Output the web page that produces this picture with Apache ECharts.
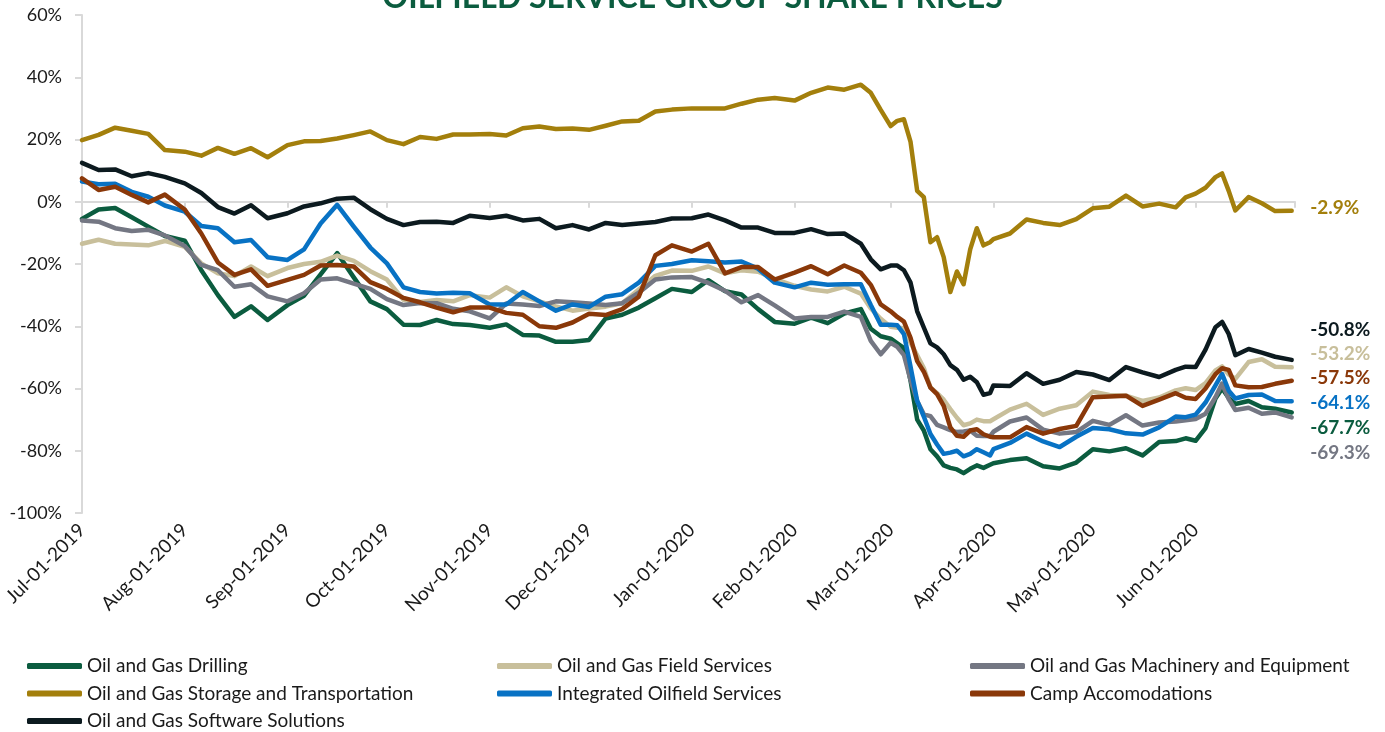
<!DOCTYPE html>
<html>
<head>
<meta charset="utf-8">
<title>Oilfield Service Group Share Prices</title>
<script src="https://cdn.jsdelivr.net/npm/echarts@6/dist/echarts.min.js"></script>
<style>
  html, body { margin: 0; padding: 0; background: #fff; }
  #chart { width: 1385px; height: 732px; }
</style>
</head>
<body>
<div id="chart"></div>
<script>
// sample dates (shared by every series)
var dates = [
  '2019-07-01','2019-07-06','2019-07-11','2019-07-16','2019-07-21','2019-07-26',
  '2019-08-01','2019-08-06','2019-08-11','2019-08-16','2019-08-21','2019-08-26',
  '2019-09-01','2019-09-06','2019-09-11','2019-09-16','2019-09-21','2019-09-26',
  '2019-10-01','2019-10-06','2019-10-11','2019-10-16','2019-10-21','2019-10-26',
  '2019-11-01','2019-11-06','2019-11-11','2019-11-16','2019-11-21','2019-11-26',
  '2019-12-01','2019-12-06','2019-12-11','2019-12-16','2019-12-21','2019-12-26',
  '2020-01-01','2020-01-06','2020-01-11','2020-01-16','2020-01-21','2020-01-26',
  '2020-02-01','2020-02-06','2020-02-11','2020-02-16','2020-02-21','2020-02-24','2020-02-27',
  '2020-03-01','2020-03-03','2020-03-05','2020-03-07','2020-03-09','2020-03-11','2020-03-13',
  '2020-03-15','2020-03-17','2020-03-19','2020-03-21','2020-03-23','2020-03-25','2020-03-27',
  '2020-03-29','2020-03-31',
  '2020-04-01','2020-04-06','2020-04-11','2020-04-16','2020-04-21','2020-04-26',
  '2020-05-01','2020-05-06','2020-05-11','2020-05-16','2020-05-21','2020-05-26','2020-05-29',
  '2020-06-01','2020-06-04','2020-06-07','2020-06-09','2020-06-11','2020-06-13',
  '2020-06-17','2020-06-21','2020-06-25','2020-06-30'
];

// % change since Jul-01-2019
var drilling = [
  -5.5,-2.5,-2,-5,-8,-11, -12.5,-22,-30,-37,-33.6,-38, -33.2,-30.2,-23.3,-16.5,-24.3,-32,
  -34.5,-39.5,-39.6,-38,-39.3,-39.6, -40.5,-39.4,-42.8,-43,-45,-45, -44.4,-37.5,-36.3,-34,-31,-28,
  -29,-25.2,-28.7,-29.8,-34.5,-38.6, -39.2,-37.2,-39,-35.9,-34.5,-40.8,-43.2,
  -44,-45.5,-47,-57.5,-70,-73.5,-79.5, -81.8,-84.7,-85.5,-86,-87.2,-85.8,-84.7, -85.5,-84.5,
  -84,-83,-82.4,-85,-85.7,-83.8, -79.5,-80.2,-79.2,-81.5,-77.2,-76.9,-76,
  -76.8,-72.7,-63.2,-60,-63,-65, -64,-66,-66.5,-67.7
];
var fieldServices = [
  -13.5,-12.2,-13.5,-13.7,-14,-12.6, -14.5,-19.8,-23,-23.9,-20.8,-23.9, -21.3,-20,-19.3,-17.3,-19,-22.3,
  -25,-31.5,-32.2,-31.6,-32,-30, -30.8,-27.5,-30.4,-32,-33.6,-35, -34.3,-33.7,-32.6,-28.2,-23.8,-22.1,
  -22.2,-20.8,-23,-22,-22.5,-24.8, -27,-28.2,-28.8,-27.3,-29.5,-34.3,-37.6,
  -40.2,-40.5,-40.6,-45.3,-49.3,-53.4,-59.7, -61.5,-63.6,-66.6,-69.4,-71.8,-71.2,-70, -70.5,-70.5,
  -69.9,-66.8,-64.9,-68.5,-66.5,-65.4, -61,-62.1,-62.3,-64,-62.9,-60.6,-59.9,
  -60.5,-58.3,-54.2,-52.9,-55.5,-56.9, -51.5,-50.6,-53,-53.2
];
var machinery = [
  -6,-6.4,-8.5,-9.4,-9,-10.8, -14.2,-20.3,-22,-27.3,-26.5,-30.4, -32,-29.4,-25,-24.6,-26.3,-28,
  -31.3,-33.2,-32.5,-32.6,-34.4,-35.2, -37.5,-32.7,-33,-33.5,-32,-32.3, -32.7,-33.2,-32.6,-29.2,-25,-24.3,
  -24.2,-26.1,-28.6,-32.3,-30,-33.3, -37.5,-37,-37,-35.3,-37,-44.7,-49,
  -45.3,-46.6,-49.3,-57.3,-64,-68.3,-68.9, -71.7,-72.5,-73.4,-74,-73.8,-73.5,-75.2, -75.3,-75.3,
  -73.9,-70.6,-69.3,-73.2,-74.5,-74, -70.4,-71.7,-68.6,-71.9,-70.9,-70.6,-70.2,
  -69.8,-68.1,-62.8,-58.4,-63.4,-66.9, -66.2,-68.1,-67.7,-69.3
];
var storage = [
  19.8,21.5,23.8,22.8,21.8,16.6, 16.1,14.8,17.3,15.4,17.2,14.3, 18.2,19.4,19.5,20.3,21.4,22.6,
  19.8,18.5,20.8,20.2,21.6,21.6, 21.8,21.3,23.6,24.2,23.4,23.5, 23.1,24.4,25.8,26,29,29.6,
  30,30,30,31.5,32.8,33.3, 32.5,35,36.7,36,37.6,35,29.5,
  24.3,26,26.5,19.2,3.5,1.5,-13, -11.4,-17.8,-29,-22.4,-26.5,-15.3,-8.5, -14,-13,
  -12,-10.2,-5.7,-6.8,-7.5,-5.6, -2.1,-1.6,2,-1.5,-0.6,-1.8,1.4,
  2.6,4.5,7.9,9.1,3.5,-2.8, 1.5,-0.5,-3,-2.9
];
var integrated = [
  6.5,5.6,5.8,3.2,1.6,-1.2, -3.2,-7.8,-8.5,-13,-12.3,-17.8, -18.7,-15.3,-7,-1,-8,-14.7,
  -19.8,-27.5,-29,-29.5,-29.2,-29.4, -33,-33,-29,-32,-35,-33, -33.8,-30.5,-29.7,-26,-20.6,-20,
  -18.8,-19.1,-19.5,-19.2,-21.5,-26, -27.5,-26,-26.7,-26.5,-26.5,-33.2,-39.5,
  -39.5,-39.7,-42.5,-53,-64,-69,-74.6, -78,-81,-80.6,-80,-81.8,-81,-79.5, -80.5,-81.5,
  -79.5,-77.5,-74.5,-77,-78.8,-75.5, -72.7,-73.1,-74.4,-74.8,-72.5,-69,-69.2,
  -68.4,-64.5,-59,-55.3,-60.7,-63.2, -62.1,-61.9,-64,-64.1
];
var camp = [
  7.5,3.8,4.8,2.2,-0.2,2.3, -2.5,-10.2,-19.5,-23.5,-21.7,-27, -25.1,-23.5,-20.5,-20.3,-20.8,-25.8,
  -28,-30.9,-32.3,-34,-35.5,-34, -34,-35.7,-36.3,-40,-40.5,-38.8, -36,-36.4,-34.5,-30.5,-17.2,-14,
  -16,-13.5,-23,-21,-21,-25, -22.8,-20.7,-23.3,-20.5,-22.8,-26.7,-33,
  -35.2,-37,-38.5,-43.7,-51.2,-54.6,-59.7, -61.8,-65.6,-72.5,-75.2,-75.5,-73.5,-73.1, -74.7,-75.5,
  -75.7,-75.7,-72.4,-74.5,-73,-72, -62.8,-62.6,-62.3,-65.6,-63.6,-61.5,-63,
  -63.4,-60,-55.4,-53.5,-54,-59, -59.6,-59.5,-58.5,-57.5
];
var software = [
  12.5,10.2,10.4,8.2,9.2,8, 5.9,2.8,-1.7,-3.8,-1.1,-5.3, -3.7,-1.5,-0.5,1,1.3,-2.4,
  -5.5,-7.5,-6.5,-6.4,-6.8,-4.5, -5.2,-4.5,-6,-5.5,-8.5,-7.5, -8.9,-6.8,-7.5,-7,-6.5,-5.4,
  -5.3,-4.1,-6,-8.3,-8.3,-10, -10,-8.8,-10.4,-10.2,-13.5,-18.5,-21.7,
  -20.5,-20.5,-22,-26,-35.2,-40.4,-45.5, -46.8,-49,-52.5,-54,-57.2,-56.2,-58, -62,-61.5,
  -59,-59.2,-55.1,-58.5,-57.2,-54.7, -55.5,-57.3,-53.1,-54.8,-56.3,-54,-53,
  -53.1,-47.5,-40.3,-38.6,-42.5,-49.3, -47.3,-48.5,-49.8,-50.8
];

var monthLabels = ['2019-07-01','2019-08-01','2019-09-01','2019-10-01','2019-11-01','2019-12-01',
  '2020-01-01','2020-02-01','2020-03-01','2020-04-01','2020-05-01','2020-06-01'];
var axisEnd = '2020-07-01';

function ts(s) {
  var p = s.split('-');
  return Date.UTC(+p[0], +p[1] - 1, +p[2]);
}
var MON = ['Jan','Feb','Mar','Apr','May','Jun','Jul','Aug','Sep','Oct','Nov','Dec'];
function fmtDate(v) {
  var d = new Date(v);
  var day = d.getUTCDate();
  return MON[d.getUTCMonth()] + '-' + (day < 10 ? '0' + day : day) + '-' + d.getUTCFullYear();
}

var font = 'Lato, "Open Sans", sans-serif';
var textColor = '#1a1a1a';
var axisGray = '#d9d9d9';

// name, values, colour, vertical nudge of the end label
var lines = [
  { name: 'Oil and Gas Drilling', values: drilling, color: '#0b5c3f', dy: 15 },
  { name: 'Oil and Gas Field Services', values: fieldServices, color: '#c8bf9b', dy: -13 },
  { name: 'Oil and Gas Machinery and Equipment', values: machinery, color: '#747783', dy: 35 },
  { name: 'Oil and Gas Storage and Transportation', values: storage, color: '#a37f0c', dy: -3 },
  { name: 'Integrated Oilfield Services', values: integrated, color: '#0872c4', dy: 1.5 },
  { name: 'Camp Accomodations', values: camp, color: '#8a3809', dy: -2.5 },
  { name: 'Oil and Gas Software Solutions', values: software, color: '#0c1a1f', dy: -30 }
];

var series = lines.map(function (l) {
  var data = dates.map(function (d, i) { return [ts(d), l.values[i]]; });
  var last = data[data.length - 1];
  return {
    name: l.name,
    type: 'line',
    xAxisIndex: 0,
    data: data,
    symbol: 'none',
    color: l.color,
    lineStyle: { width: 4.5, color: l.color, cap: 'round', join: 'round' },
    markPoint: {
      symbol: 'circle',
      symbolSize: 1,
      itemStyle: { color: 'rgba(0,0,0,0)' },
      silent: true,
      data: [{ coord: last, value: last[1] }],
      label: {
        show: true,
        position: 'right',
        distance: 18,
        offset: [0, l.dy],
        color: l.color,
        fontFamily: font,
        fontWeight: 'bold',
        fontSize: 19,
        formatter: function (p) { return p.value.toFixed(1) + '%'; }
      }
    }
  };
});

function legendCol(left, names) {
  return {
    orient: 'vertical',
    left: left,
    top: 656,
    height: 90,
    padding: 0,
    data: names,
    icon: 'roundRect',
    itemWidth: 55,
    itemHeight: 6,
    itemGap: 7.5,
    selectedMode: false,
    textStyle: { fontFamily: font, fontSize: 19, color: textColor, lineHeight: 20 }
  };
}

var chart = echarts.init(document.getElementById('chart'));
var option = {
  animation: false,
  backgroundColor: '#fff',
  title: {
    text: 'OILFIELD SERVICE GROUP SHARE PRICES',
    left: 'center',
    top: -23,
    textStyle: { fontFamily: font, fontSize: 32, fontWeight: 'bold', color: '#0b5c3f' }
  },
  legend: [
    legendCol(27, [lines[0].name, lines[3].name, lines[6].name]),
    legendCol(497, [lines[1].name, lines[4].name]),
    legendCol(970, [lines[2].name, lines[5].name])
  ],
  grid: { left: 82, right: 90, top: 15, bottom: 219, containLabel: false, outerBoundsMode: 'none' },
  xAxis: [
    {
      type: 'value',
      min: ts(monthLabels[0]),
      max: ts(axisEnd),
      axisLine: { onZero: true, lineStyle: { color: axisGray, width: 2 } },
      axisTick: {
        show: true, length: 6,
        customValues: monthLabels.map(ts).concat([ts(axisEnd)]),
        lineStyle: { color: axisGray, width: 2 }
      },
      axisLabel: { show: false },
      splitLine: { show: false }
    },
    {
      type: 'value',
      position: 'bottom',
      min: ts(monthLabels[0]),
      max: ts(axisEnd),
      axisLine: { show: false, onZero: false },
      axisTick: { show: false },
      splitLine: { show: false },
      axisLabel: {
        show: true,
        rotate: 45,
        margin: 14,
        customValues: monthLabels.map(ts),
        formatter: fmtDate,
        fontFamily: font,
        fontSize: 19,
        color: textColor
      }
    }
  ],
  yAxis: {
    type: 'value',
    min: -100,
    max: 60,
    interval: 20,
    axisLine: { show: true, lineStyle: { color: axisGray, width: 2 } },
    axisTick: { show: true, length: 7, lineStyle: { color: axisGray, width: 2 } },
    splitLine: { show: false },
    axisLabel: {
      margin: 20,
      formatter: '{value}%',
      fontFamily: font,
      fontSize: 18,
      color: textColor
    }
  },
  series: series
};
chart.setOption(option);
</script>
</body>
</html>
